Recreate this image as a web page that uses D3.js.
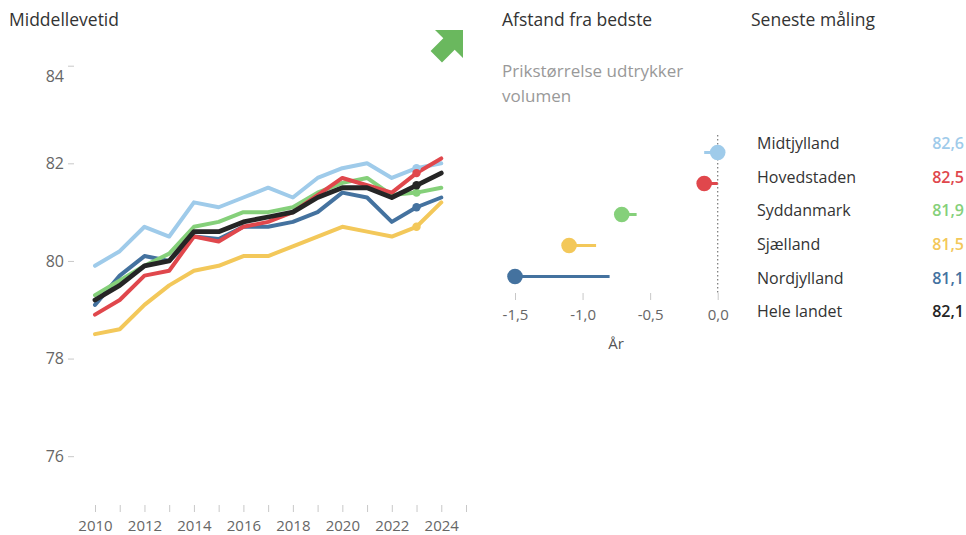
<!DOCTYPE html>
<html><head><meta charset="utf-8">
<script src="https://cdn.jsdelivr.net/npm/d3@7"></script>
<style>
body{margin:0;background:#fff;font-family:"Open Sans",sans-serif;}
svg{display:block}
</style></head><body>
<svg id="c" width="966" height="535"></svg>
<script>
const years = [2010,2011,2012,2013,2014,2015,2016,2017,2018,2019,2020,2021,2022,2023,2024];
const regions = ["Midtjylland","Hovedstaden","Syddanmark","Sjælland","Nordjylland","Hele landet"];
const colors = ["#9fcbea","#e0474c","#85d07a","#f3c85a","#44729f","#252525"];
const midtjylland = [79.9,80.2,80.7,80.5,81.2,81.1,81.3,81.5,81.3,81.7,81.9,82.0,81.7,81.9,82.0];
const hovedstaden = [78.9,79.2,79.7,79.8,80.5,80.4,80.7,80.8,81.0,81.35,81.7,81.55,81.4,81.8,82.1];
const syddanmark  = [79.3,79.6,79.9,80.15,80.7,80.8,81.0,81.0,81.1,81.4,81.6,81.7,81.35,81.4,81.5];
const sjaelland   = [78.5,78.6,79.1,79.5,79.8,79.9,80.1,80.1,80.3,80.5,80.7,80.6,80.5,80.7,81.2];
const nordjylland = [79.1,79.7,80.1,80.0,80.5,80.45,80.7,80.7,80.8,81.0,81.4,81.3,80.8,81.1,81.3];
const heleLandet  = [79.2,79.5,79.9,80.0,80.6,80.6,80.8,80.9,81.0,81.3,81.5,81.5,81.3,81.55,81.8];
const markerYear = 2023;
const yTicks = [76,78,80,82,84];
const xTickLabels = [2010,2012,2014,2016,2018,2020,2022,2024];
// dot plot: distance from best
const dotRegions = ["Midtjylland","Hovedstaden","Syddanmark","Sjælland","Nordjylland"];
const dotValues = [0.0,-0.1,-0.71,-1.1,-1.5];
const tailValues = [-0.1,0.0,-0.6,-0.9,-0.8];
const dotTicks = [-1.5,-1.0,-0.5,0.0];
// latest measurement
const latest = [82.6,82.5,81.9,81.5,81.1,82.1];

const series = [midtjylland,hovedstaden,syddanmark,sjaelland,nordjylland,heleLandet];
const svg = d3.select("#c");
const fmt = v => d3.format(".1f")(v).replace(".",",").replace("\u2212","-");

// titles
svg.append("text").attr("x",9).attr("y",26).attr("font-size",17.5).attr("fill","#333").text("Middellevetid");
svg.append("text").attr("x",502).attr("y",26).attr("font-size",17.5).attr("fill","#333").text("Afstand fra bedste");
svg.append("text").attr("x",751).attr("y",26).attr("font-size",17.5).attr("fill","#333").text("Seneste måling");
svg.append("text").attr("x",502).attr("y",77).attr("font-size",17).attr("fill","#999").text("Prikstørrelse udtrykker");
svg.append("text").attr("x",502).attr("y",102).attr("font-size",17).attr("fill","#999").text("volumen");

// arrow
svg.append("path").attr("d","M435,30L463,30L463,58L454.7,49.7L442,62.4L430.6,51L443.3,38.3Z").attr("fill","#6ab85e");

// line chart
const x = d3.scaleLinear().domain([2010,2025]).range([95,466]);
const y = d3.scaleLinear().domain([75,84]).range([505,65.7]);

const yAxis = svg.append("g").attr("transform","translate(74,0)")
  .call(d3.axisLeft(y).tickValues(yTicks).tickSize(6).tickPadding(4).tickFormat(d=>d));
yAxis.select(".domain").remove();
yAxis.selectAll(".tick line").attr("stroke","#c8c8c8");
yAxis.selectAll(".tick text").attr("fill","#666").attr("font-size",16).attr("font-family","Open Sans")
  .attr("dy", d => d===84 ? "1.0em" : "0.32em");

const xAxis = svg.append("g").attr("transform","translate(0,505)")
  .call(d3.axisBottom(x).tickValues(d3.range(2010,2026)).tickSize(7).tickPadding(8)
    .tickFormat(d => xTickLabels.includes(d) ? d : ""));
xAxis.select(".domain").remove();
xAxis.selectAll(".tick line").attr("stroke","#c8c8c8");
xAxis.selectAll(".tick text").attr("fill","#666").attr("font-size",15).attr("font-family","Open Sans");

const line = d3.line().x((d,i)=>x(years[i])).y(d=>y(d));
const order = [3,4,2,0,1,5];
order.forEach(k=>{
  svg.append("path").datum(series[k]).attr("d",line).attr("fill","none")
    .attr("stroke",colors[k]).attr("stroke-width",k===5?4.8:4).attr("stroke-linejoin","round").attr("stroke-linecap","round");
});
order.forEach(k=>{
  const i = years.indexOf(markerYear);
  svg.append("circle").attr("cx",x(markerYear)).attr("cy",y(series[k][i])).attr("r",4.2).attr("fill",colors[k]);
});

// dot plot
const dx = d3.scaleLinear().domain([-1.5,0]).range([515,717.7]);
const dy = d3.scaleBand().domain(dotRegions).range([137,292]);
const dAxis = svg.append("g").attr("transform","translate(0,293)")
  .call(d3.axisBottom(dx).tickValues(dotTicks).tickSize(7).tickPadding(9).tickFormat(fmt));
dAxis.select(".domain").remove();
dAxis.selectAll(".tick line").attr("stroke","#c8c8c8");
dAxis.selectAll(".tick text").attr("fill","#666").attr("font-size",15).attr("font-family","Open Sans");
svg.append("text").attr("x",616).attr("y",349).attr("text-anchor","middle").attr("font-size",15).attr("fill","#555").text("År");
svg.append("line").attr("x1",dx(0)).attr("x2",dx(0)).attr("y1",135).attr("y2",295)
  .attr("stroke","#777").attr("stroke-width",1.2).attr("stroke-dasharray","1.5,2.5");
dotRegions.forEach((r,i)=>{
  const cy = dy(r)+dy.bandwidth()/2;
  const c = colors[regions.indexOf(r)];
  svg.append("line").attr("x1",dx(dotValues[i])).attr("x2",dx(tailValues[i])).attr("y1",cy).attr("y2",cy)
    .attr("stroke",c).attr("stroke-width",3);
  svg.append("circle").attr("cx",dx(dotValues[i])).attr("cy",cy).attr("r",7.8).attr("fill",c);
});

// legend
const ly = d3.scalePoint().domain(regions).range([143.5,311.5]);
regions.forEach((r,i)=>{
  svg.append("text").attr("x",757).attr("y",ly(r)).attr("dy","0.35em").attr("font-size",16).attr("fill","#333").text(r);
  svg.append("text").attr("x",964).attr("y",ly(r)).attr("dy","0.35em").attr("text-anchor","end")
    .attr("font-size",16).attr("font-weight",600).attr("fill",colors[i]).text(fmt(latest[i]));
});
</script></body></html>
